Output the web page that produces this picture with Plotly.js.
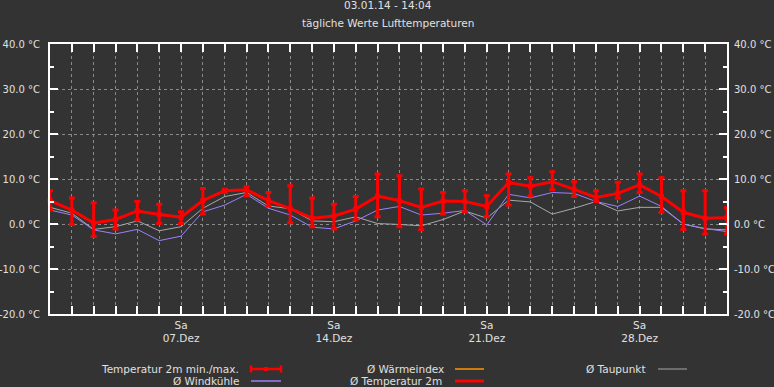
<!DOCTYPE html>
<html>
<head>
<meta charset="utf-8">
<script src="https://cdn.plot.ly/plotly-3.0.1.min.js"></script>
<style>html,body{margin:0;padding:0;background:#333333;}#chart{width:774px;height:387px;}</style>
</head>
<body>
<div id="chart"></div>
<script>
// ---- data ----
const days = ['2013-12-01','2013-12-02','2013-12-03','2013-12-04','2013-12-05','2013-12-06','2013-12-07','2013-12-08',
  '2013-12-09','2013-12-10','2013-12-11','2013-12-12','2013-12-13','2013-12-14','2013-12-15','2013-12-16',
  '2013-12-17','2013-12-18','2013-12-19','2013-12-20','2013-12-21','2013-12-22','2013-12-23','2013-12-24',
  '2013-12-25','2013-12-26','2013-12-27','2013-12-28','2013-12-29','2013-12-30','2013-12-31','2014-01-01'];
const tempMean = [5.2,3.1,0.2,1.0,2.9,2.1,1.5,5.2,7.4,7.6,5.2,3.4,1.3,1.8,3.3,6.2,5.2,3.7,5.1,5.0,3.9,9.2,8.4,9.4,7.7,5.9,6.8,8.7,6.1,2.6,1.3,1.4];
const tempMax  = [7.4,5.8,4.7,3.1,5.0,4.4,2.7,7.9,7.7,8.3,7.0,8.5,5.8,4.4,6.1,11.1,10.7,7.8,7.0,7.4,6.3,11.1,10.3,11.6,9.4,7.4,9.3,11.1,10.3,7.4,7.4,3.6];
const tempMin  = [3.1,-0.1,-2.8,-1.1,0.9,0.1,0.1,2.2,7.0,6.3,4.0,0.3,-0.6,-1.1,0.9,1.6,-0.6,-1.3,2.2,2.7,1.6,4.2,6.2,7.6,6.1,5.0,5.7,7.0,2.6,-1.2,-2.2,-2.2];
const dewPoint = [3.7,2.4,-1.2,-0.6,0.7,-1.5,-0.6,3.5,6.1,7.0,4.0,3.4,0.7,0.5,1.6,0.1,-0.1,-0.4,1.0,2.9,1.3,5.3,4.9,2.2,3.5,5.0,2.9,3.7,3.7,0.0,-1.1,-1.3];
const windChill = [3.1,2.0,-1.3,-2.2,-1.2,-3.7,-2.7,2.7,4.2,6.6,3.5,2.0,-0.7,-1.1,0.7,3.1,3.9,2.0,2.4,3.0,-0.2,6.6,5.8,7.0,6.8,5.0,3.9,6.2,3.9,0.0,-1.0,-1.7];
const tickDays = ['2013-12-07','2013-12-14','2013-12-21','2013-12-28'];
const tickText = ['Sa<br>07.Dez','Sa<br>14.Dez','Sa<br>21.Dez','Sa<br>28.Dez'];
const yTickVals = [-20,-10,0,10,20,30,40];
const yTickText = ['-20.0 °C','-10.0 °C','0.0 °C','10.0 °C','20.0 °C','30.0 °C','40.0 °C'];
const legendNames = ['Temperatur 2m min./max.','Ø Wärmeindex','Ø Taupunkt','Ø Windkühle','Ø Temperatur 2m'];
const titleLines = ['03.01.14 - 14:04','tägliche Werte Lufttemperaturen'];

// ---- styles ----
const RED = '#ff0000', PURPLE = '#9a80ff', GRAY = '#a8a8a8', ORANGE = '#ff9900';
const TXT = '#e0e0e0', FONT = 'DejaVu Sans', FS = 10.5;
const GRID = '#8a8a8a', DASH = '3px,3px';
const L = 50, R = 47, T = 44, B = 73, W = 774, H = 387;
const PW = W - L - R, PH = H - T - B;
const px = x => (x - L) / PW;
const py = y => (H - B - y) / PH;

const traces = [
  {x: days, y: dewPoint, type: 'scatter', mode: 'lines', line: {color: GRAY, width: 1}, showlegend: false, cliponaxis: false},
  {x: days, y: windChill, type: 'scatter', mode: 'lines', line: {color: PURPLE, width: 1}, showlegend: false, cliponaxis: false},
  {x: days, y: tempMean, type: 'scatter', mode: 'lines+markers', line: {color: RED, width: 3},
   marker: {symbol: 'square', size: 5, color: RED}, showlegend: false, cliponaxis: false,
   error_y: {type: 'data', symmetric: false,
     array: tempMax.map((v, i) => v - tempMean[i]),
     arrayminus: tempMean.map((v, i) => v - tempMin[i]),
     color: RED, thickness: 3, width: 3}},
  // invisible helper so the right-hand axis gets drawn
  {x: days, y: tempMean, yaxis: 'y2', type: 'scatter', mode: 'lines', opacity: 0, line: {width: 0}, showlegend: false, hoverinfo: 'skip'}
];

const annotations = [
  {text: titleLines[0], xref: 'paper', yref: 'paper', x: px(388), y: py(5), yanchor: 'middle', showarrow: false, font: {family: FONT, size: FS, color: TXT}},
  {text: titleLines[1], xref: 'paper', yref: 'paper', x: px(388), y: py(23), yanchor: 'middle', showarrow: false, font: {family: FONT, size: FS, color: TXT}}
];
const legendItems = [
  {name: legendNames[0], tx: 241, row: 369, x0: 251, x1: 281, color: RED, kind: 'err'},
  {name: legendNames[1], tx: 446, row: 369, x0: 455, x1: 484, color: ORANGE, kind: 'line', w: 1.5},
  {name: legendNames[2], tx: 648, row: 369, x0: 658, x1: 687, color: GRAY, kind: 'line', w: 1},
  {name: legendNames[3], tx: 241, row: 381, x0: 251, x1: 281, color: PURPLE, kind: 'line', w: 1.5},
  {name: legendNames[4], tx: 444, row: 381, x0: 455, x1: 484, color: RED, kind: 'line', w: 3}
];
const shapes = [];
legendItems.forEach(it => {
  annotations.push({text: it.name, xref: 'paper', yref: 'paper', x: px(it.tx), y: py(it.row), xanchor: 'right', yanchor: 'middle',
    showarrow: false, font: {family: FONT, size: FS, color: TXT}});
  shapes.push({type: 'line', xref: 'paper', yref: 'paper', x0: px(it.x0), x1: px(it.x1), y0: py(it.row), y1: py(it.row),
    line: {color: it.color, width: it.kind === 'err' ? 2.5 : it.w}});
  if (it.kind === 'err') {
    [it.x0, it.x1].forEach(xx => shapes.push({type: 'line', xref: 'paper', yref: 'paper', x0: px(xx), x1: px(xx),
      y0: py(it.row - 3.5), y1: py(it.row + 3.5), line: {color: it.color, width: 2.5}}));
    const cx = (it.x0 + it.x1) / 2;
    shapes.push({type: 'rect', xref: 'paper', yref: 'paper', x0: px(cx - 2), x1: px(cx + 2), y0: py(it.row - 2), y1: py(it.row + 2),
      fillcolor: it.color, line: {width: 0}});
  }
});

const yCommon = {range: [-20, 40], tickmode: 'array', tickvals: yTickVals, ticktext: yTickText,
  tickfont: {family: FONT, size: 10, color: TXT}, zeroline: false};

const layout = {
  width: W, height: H,
  margin: {l: L, r: R, t: T, b: B, pad: 0},
  paper_bgcolor: '#333333', plot_bgcolor: '#333333',
  showlegend: false,
  xaxis: {type: 'date', range: ['2013-12-01', '2014-01-01'], tickvals: tickDays, ticktext: tickText,
    tickfont: {family: FONT, size: FS, color: TXT}, ticks: 'inside', ticklen: 8, tickwidth: 2, tickcolor: '#ffffff',
    showline: true, linecolor: '#ffffff', linewidth: 2, mirror: 'allticks',
    showgrid: true, gridcolor: GRID, griddash: DASH, gridwidth: 1, zeroline: false,
    minor: {tick0: '2013-12-01', dtick: 86400000, ticks: 'inside', ticklen: 4, tickwidth: 2, tickcolor: '#ffffff',
      showgrid: true, gridcolor: GRID, griddash: DASH, gridwidth: 1}},
  yaxis: Object.assign({}, yCommon, {ticks: 'inside', ticklen: 8, tickwidth: 2, tickcolor: '#ffffff',
    showline: true, linecolor: '#ffffff', linewidth: 2, mirror: 'allticks',
    showgrid: true, gridcolor: GRID, griddash: DASH, gridwidth: 1, ticklabelstandoff: 6,
    minor: {tickmode: 'linear', tick0: 0, dtick: 5, ticks: 'inside', ticklen: 4, tickwidth: 2, tickcolor: '#ffffff', showgrid: false}}),
  yaxis2: Object.assign({}, yCommon, {overlaying: 'y', side: 'right', anchor: 'x', showgrid: false, showline: false, ticks: '', ticklabelstandoff: 6}),
  annotations: annotations,
  shapes: shapes
};

Plotly.newPlot('chart', traces, layout, {staticPlot: true, displayModeBar: false});
</script>
</body>
</html>
